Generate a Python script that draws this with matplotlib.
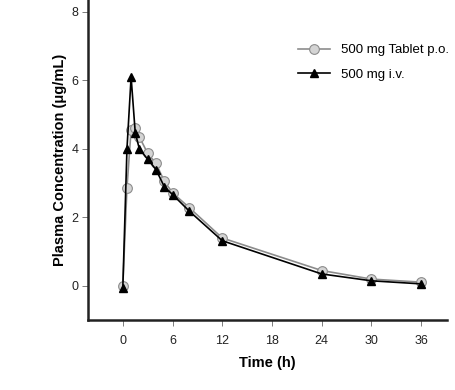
import matplotlib
matplotlib.use("Agg")
import matplotlib.pyplot as plt

# ── Data ────────────────────────────────────────────────────────────────────
time_tab = [0, 0.5, 1, 1.5, 2, 3, 4, 5, 6, 8, 12, 24, 30, 36]
conc_tab = [0, 2.87, 4.56, 4.6, 4.35, 3.87, 3.58, 3.06, 2.72, 2.29, 1.4, 0.45, 0.2, 0.11]

time_iv = [0, 0.5, 1, 1.5, 2, 3, 4, 5, 6, 8, 12, 24, 30, 36]
conc_iv = [-0.05, 4.0, 6.1, 4.47, 4.0, 3.7, 3.4, 2.9, 2.67, 2.19, 1.32, 0.35, 0.15, 0.06]

x_ticks = [0, 6, 12, 18, 24, 30, 36]
y_ticks = [0, 2, 4, 6, 8]

plt.rcParams["font.family"] = ["Liberation Sans", "DejaVu Sans"]

fig = plt.figure(figsize=(4.56, 3.9), dpi=100)
ax = fig.add_axes([0.193, 0.179, 0.787, 0.821])

ax.plot(time_tab, conc_tab, color="#8c8c8c", lw=1.2, marker="o", ms=7,
        mfc="#d4d4d4", mec="#8c8c8c", mew=0.8, label="500 mg Tablet p.o.", zorder=2)
ax.plot(time_iv, conc_iv, color="black", lw=1.2, marker="^", ms=6,
        mfc="black", mec="black", label="500 mg i.v.", zorder=3)

ax.set_xlim(-4.2, 39.1)
ax.set_ylim(-1.0, 8.35)
ax.set_xticks(x_ticks)
ax.set_yticks(y_ticks)

for side in ["top", "right"]:
    ax.spines[side].set_visible(False)
for side in ["left", "bottom"]:
    ax.spines[side].set_linewidth(1.8)
    ax.spines[side].set_color("#222222")

ax.tick_params(axis="both", direction="out", length=4, width=0.6,
               color="#666666", labelsize=9, labelcolor="#222222")
ax.tick_params(axis="y", pad=3)
ax.tick_params(axis="x", pad=7)

ax.set_xlabel("Time (h)", fontsize=10.5, fontweight="bold", labelpad=6)
ax.set_ylabel("Plasma Concentration (\u03bcg/mL)", fontsize=10.5,
              fontweight="bold", labelpad=3)

ax.legend(loc="upper left", bbox_to_anchor=(0.553, 0.90), frameon=False,
          fontsize=9.5, handlelength=2.4, handletextpad=0.8, labelspacing=0.95,
          borderpad=0.4)

fig.savefig("out.png", dpi=100)
